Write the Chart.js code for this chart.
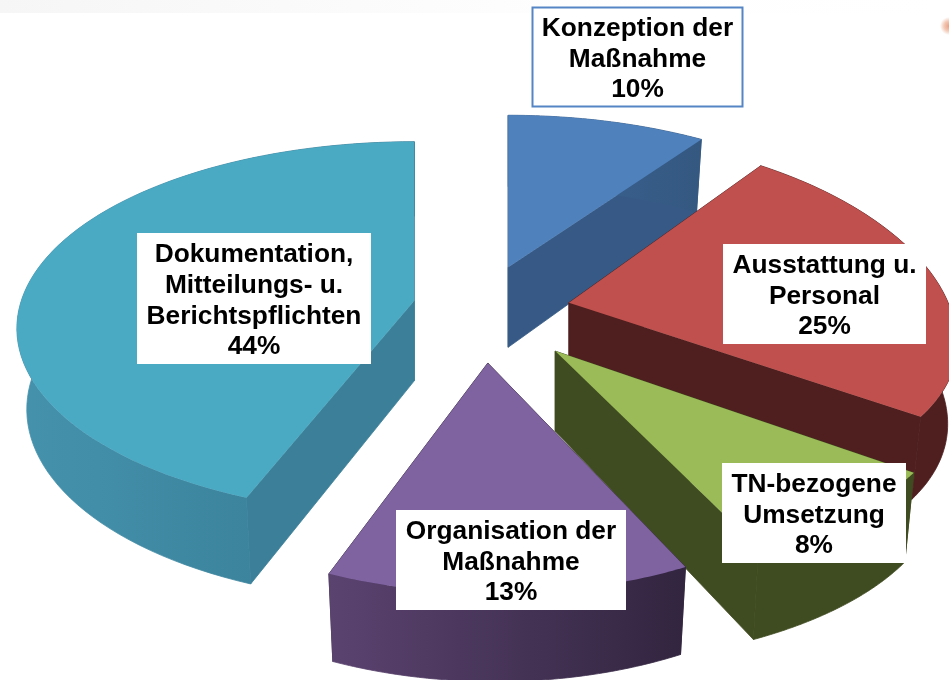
<!DOCTYPE html>
<html>
<head>
<meta charset="utf-8">
<style>
html,body{margin:0;padding:0;}
body{width:949px;height:680px;overflow:hidden;
  background:
    radial-gradient(circle 9px at 949px 26px, #e8a083 0, #f3c9b6 55%, rgba(255,255,255,0) 100%),
    linear-gradient(to right, #f6f6f6 0, #fafafa 30%, #fefefe 60%, #ffffff 100%) 0 0 / 100% 13px no-repeat,
    #ffffff;}
canvas{display:block;}
</style>
<script src="https://cdn.jsdelivr.net/npm/chart.js@4"></script>
</head>
<body>
<canvas id="c" width="949" height="680"></canvas>
<script>
// ---- data ----
const categories = [
  ['Konzeption der','Maßnahme'],
  ['Ausstattung u.','Personal'],
  ['TN-bezogene','Umsetzung'],
  ['Organisation der','Maßnahme'],
  ['Dokumentation,','Mitteilungs- u.','Berichtspflichten']
];
const shares = [10, 25, 8, 13, 44];

// ---- styling ----
const topColors  = ['#4f81bd', '#c0504d', '#9bbb59', '#7f62a0', '#4aa9c3'];
const wallColors = ['#365a85', '#4f1f1f', '#3f4b20', '#33263f', '#3b7f98'];
const rimStart   = ['#3c6596', '#4f1f1f', '#3f4b20', '#5b4370', '#4592ad'];
const rimEnd     = ['#345880', '#4f1f1f', '#3f4b20', '#32253f', '#367a93'];
const explode    = [88, 88, 118, 121, 71];
const labelBoxes = [[532,7,743,107],[723,244,926,344],[722,463,906,563],[396,510,626,610],[137,233,371,364]];
const drawOrder  = [0, 1, 2, 3, 4];
// per-slice view tuning of the photographed 3D look
const tipNudge   = [[-1,-1],[0,2],[-2,2],[2,0],[2,0]];
const widthScale = [1, 0.96, 0.99, 0.95, 0.995];
const perspX     = [0.25, 0.2, 0.2, 0.18, 0.148];
const perspY     = [0.25, 0.1, 0.14, 0.18, 0.148];
const tilt       = [0.481, 0.463, 0.481, 0.478, 0.4625];
const frontSkew  = [0, 7, 0, 7.5, 0];
const depthScale = [1, 1, 1.07, 1, 1];
const baseTilt = 0.463, depth = 80, bottomShrink = 0.975;

function sliceTip(arc, i, offset) {
  const mid = (arc.startAngle + arc.endAngle) / 2;
  return [arc.x + Math.cos(mid) * offset + tipNudge[i][0],
          arc.y + Math.sin(mid) * offset * baseTilt + tipNudge[i][1]];
}

function projector(arc, i, tip) {
  const R = arc.outerRadius;
  return function (a, lower) {
    const n = Math.sin(a);
    const fx = 1 / (1 - perspX[i] * n);
    const fy = 1 / (1 - perspY[i] * n);
    let x = R * Math.cos(a) * fx * widthScale[i] + frontSkew[i] * Math.max(n, 0);
    let y = R * n * tilt[i] * fy;
    if (lower) { x *= bottomShrink; y += depth * depthScale[i] * Math.sqrt(fy); }
    return [tip[0] + x, tip[1] + y];
  };
}

const pie3d = {
  id: 'pie3d',
  beforeDatasetDraw(chart, args) {
    const ctx = chart.ctx;
    const arcs = args.meta.data;
    ctx.save();
    ctx.lineWidth = 0.8;
    ctx.lineJoin = 'round';
    drawOrder.forEach(i => {
      const arc = arcs[i];
      const tip = sliceTip(arc, i, arc.options.offset);
      const P = projector(arc, i, tip);
      const a0 = arc.startAngle, a1 = arc.endAngle;
      const steps = 80;
      const angle = k => a0 + (a1 - a0) * k / steps;

      // radial walls
      [a0, a1].forEach(a => {
        const top = P(a, false), bot = P(a, true);
        ctx.beginPath();
        ctx.moveTo(tip[0], tip[1]);
        ctx.lineTo(top[0], top[1]);
        ctx.lineTo(bot[0], bot[1]);
        ctx.lineTo(tip[0], tip[1] + depth);
        ctx.closePath();
        ctx.fillStyle = wallColors[i];
        ctx.strokeStyle = wallColors[i];
        ctx.fill();
        ctx.stroke();
      });

      // outer rim
      let minX = Infinity, maxX = -Infinity;
      ctx.beginPath();
      for (let k = 0; k <= steps; k++) {
        const p = P(angle(k), false);
        minX = Math.min(minX, p[0]); maxX = Math.max(maxX, p[0]);
        if (k === 0) ctx.moveTo(p[0], p[1]); else ctx.lineTo(p[0], p[1]);
      }
      for (let k = steps; k >= 0; k--) {
        const p = P(angle(k), true);
        ctx.lineTo(p[0], p[1]);
      }
      ctx.closePath();
      const g = ctx.createLinearGradient(minX, 0, maxX, 0);
      g.addColorStop(0, rimStart[i]);
      g.addColorStop(1, rimEnd[i]);
      ctx.fillStyle = g;
      ctx.strokeStyle = g;
      ctx.fill();
      ctx.stroke();

      // top face
      ctx.beginPath();
      ctx.moveTo(tip[0], tip[1]);
      for (let k = 0; k <= steps; k++) {
        const p = P(angle(k), false);
        ctx.lineTo(p[0], p[1]);
      }
      ctx.closePath();
      ctx.fillStyle = topColors[i];
      ctx.fill();
    });
    ctx.restore();
    return false;
  },
  afterDatasetsDraw(chart) {
    const ctx = chart.ctx;
    ctx.save();
    ctx.font = 'bold 26.3px "Liberation Sans", Arial, sans-serif';
    ctx.textAlign = 'center';
    ctx.textBaseline = 'alphabetic';
    const lh = 30.6;
    labelBoxes.forEach((b, i) => {
      ctx.fillStyle = '#ffffff';
      ctx.fillRect(b[0], b[1], b[2] - b[0], b[3] - b[1]);
      if (i === 0) {
        ctx.strokeStyle = '#5585c4';
        ctx.lineWidth = 2;
        ctx.strokeRect(b[0] + 0.5, b[1] + 0.5, b[2] - b[0] - 1, b[3] - b[1] - 1);
      }
      const lines = categories[i].concat([shares[i] + '%']);
      const cx = (b[0] + b[2]) / 2;
      const midBase = (b[1] + b[3]) / 2 + 9.7;
      lines.forEach((t, j) => {
        ctx.fillStyle = '#000000';
        ctx.fillText(t, cx, midBase + (j - (lines.length - 1) / 2) * lh);
      });
    });
    ctx.restore();
  }
};

new Chart(document.getElementById('c'), {
  type: 'pie',
  data: {
    labels: categories.map(l => l.join(' ')),
    datasets: [{ data: shares, backgroundColor: topColors, offset: explode, borderWidth: 0 }]
  },
  options: {
    responsive: false,
    animation: false,
    radius: 395,
    layout: { padding: { left: 15, bottom: 66 } },
    plugins: { legend: { display: false }, tooltip: { enabled: false } }
  },
  plugins: [pie3d]
});
</script>
</body>
</html>
